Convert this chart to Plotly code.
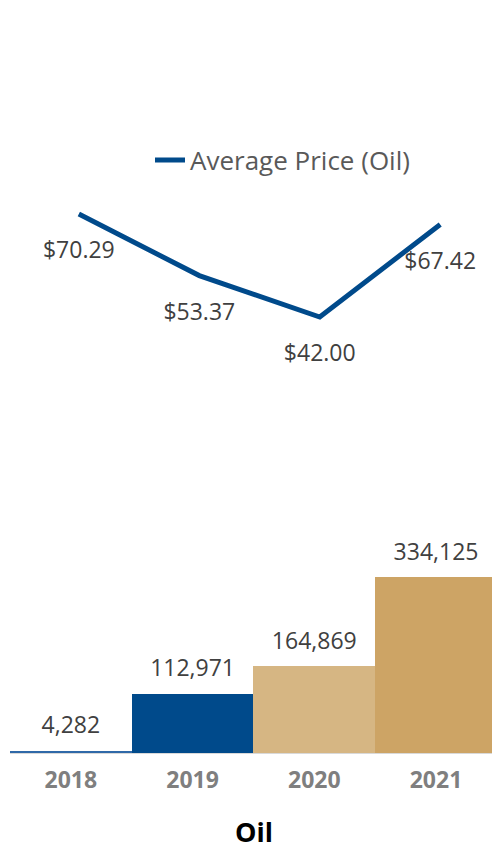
import plotly.graph_objects as go

years = ["2018", "2019", "2020", "2021"]
avg_price = [70.29, 53.37, 42.00, 67.42]
price_labels = ["$70.29", "$53.37", "$42.00", "$67.42"]
volumes = [4282, 112971, 164869, 334125]
volume_labels = ["4,282", "112,971", "164,869", "334,125"]
bar_colors = ["#2F69A8", "#004A8B", "#D6B683", "#CDA465"]

FONT = "Open Sans"
W, H = 492, 853
LABEL_FONT = dict(family=FONT, size=23, color="#404040")

fig = go.Figure()

fig.add_trace(go.Bar(
    x=years, y=volumes, marker=dict(color=bar_colors, line=dict(width=0)),
    xaxis="x", yaxis="y", showlegend=False, hoverinfo="skip",
))
# bar value labels
fig.add_trace(go.Scatter(
    x=years, y=volumes, mode="markers+text", text=volume_labels,
    textposition="top center", textfont=LABEL_FONT,
    marker=dict(size=17.6, color="rgba(0,0,0,0)"), cliponaxis=False,
    xaxis="x", yaxis="y", showlegend=False, hoverinfo="skip",
))

fig.add_trace(go.Scatter(
    x=years, y=avg_price, mode="lines", name="Average Price (Oil)",
    line=dict(color="#004A8B", width=5),
    xaxis="x2", yaxis="y2", hoverinfo="skip",
))
# price labels
fig.add_trace(go.Scatter(
    x=years, y=avg_price, mode="markers+text", text=price_labels,
    textposition="bottom center", textfont=LABEL_FONT,
    marker=dict(size=41.6, color="rgba(0,0,0,0)"), cliponaxis=False,
    xaxis="x2", yaxis="y2", showlegend=False, hoverinfo="skip",
))

fig.update_layout(
    width=W, height=H,
    margin=dict(l=0, r=0, t=0, b=0),
    paper_bgcolor="white", plot_bgcolor="rgba(0,0,0,0)",
    bargap=0,
    xaxis=dict(domain=[10 / W, 1], range=[-0.5, 3.46], type="category",
               showgrid=False, zeroline=False, showline=True, linecolor="#D9D9D9", linewidth=1,
               ticks="", ticklabelstandoff=6,
               tickfont=dict(family=FONT, size=23, color="#7F7F7F", weight="bold")),
    yaxis=dict(domain=[1 - 753 / H, 1 - 540 / H], range=[0, 405000], visible=False),
    xaxis2=dict(domain=[18.6 / W, 1], range=[-0.5, 3.43], type="category",
                anchor="y2", visible=False),
    yaxis2=dict(domain=[1 - 400 / H, 1 - 180 / H], range=[19.2, 79.63], anchor="x2", visible=False),
    legend=dict(x=150 / W, y=1 - 160 / H, xanchor="left", yanchor="middle",
                orientation="h", bgcolor="rgba(0,0,0,0)",
                font=dict(family=FONT, size=26, color="#595959")),
    title=dict(text="<b>Oil</b>", x=254 / W, xanchor="center", y=1 - 833 / H, yanchor="middle",
               font=dict(family=FONT, size=27, color="#000000")),
)

fig.write_html("out.html", config={"displayModeBar": False},
               post_script="document.body.style.margin='0';")
